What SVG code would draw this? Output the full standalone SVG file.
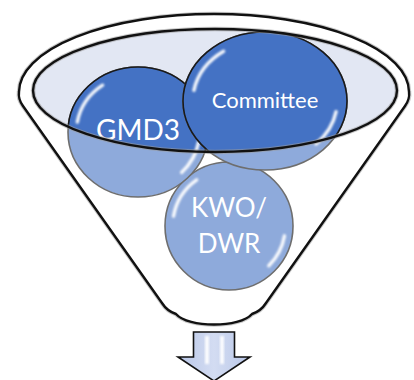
<svg xmlns="http://www.w3.org/2000/svg" width="414" height="380" viewBox="0 0 414 380">
  <style>
    .edge-halo { fill: none; stroke: #9a9a9a; stroke-width: 4.5; opacity: 0.55; }
    .edge { fill: none; stroke: #111; stroke-width: 2.4; stroke-linejoin: round; }
    .ball-light { fill: #8eaadb; stroke: #6e6e6e; stroke-width: 1.6; }
    .ball-dark { fill: #4472c4; stroke: #1a1a1a; stroke-width: 1.6; }
    .gloss { fill: none; stroke: #ffffff; stroke-width: 3.4; stroke-linecap: round; opacity: 0.95; filter: url(#soft); }
    .label { fill: #ffffff; font-family: Lato, "Open Sans", "Liberation Sans", sans-serif; text-anchor: middle; }
  </style>
  <defs>
    <filter id="soft" x="-20%" y="-20%" width="140%" height="140%">
      <feGaussianBlur stdDeviation="0.9"/>
    </filter>
    <clipPath id="rim-clip">
      <ellipse cx="215" cy="90.5" rx="182" ry="61.5"/>
    </clipPath>
    <linearGradient id="arrow-fill" x1="0" y1="0" x2="1" y2="0">
      <stop offset="0" stop-color="#b9c7e8"/>
      <stop offset="0.5" stop-color="#d3dcf2"/>
      <stop offset="1" stop-color="#b9c7e8"/>
    </linearGradient>
  </defs>

  <!-- funnel body and rim -->
  <g id="funnel">
    <path class="edge-halo" d="M19 92 A195 78 0 0 1 409 92 Q410 99 405 106 L266 303 Q261 311 252 314 C240 328 188 328 176 314 Q167 311 162 303 L23 106 Q18 99 19 92 Z"/>
    <path class="edge" style="fill:#ffffff" d="M19 92 A195 78 0 0 1 409 92 Q410 99 405 106 L266 303 Q261 311 252 314 C240 328 188 328 176 314 Q167 311 162 303 L23 106 Q18 99 19 92 Z"/>
    <ellipse cx="215" cy="90.5" rx="182" ry="61.5" fill="#e2e7f3"/>
  </g>

  <!-- balls, lighter where they sit below the rim -->
  <g id="kwo-dwr">
    <circle class="ball-light" cx="229" cy="226" r="64"/>
    <path class="gloss" d="M173.5 216.2 A56.3 56.3 0 0 1 196.7 179.9"/>
    <path class="gloss" d="M284.5 235.8 A56.3 56.3 0 0 1 268.8 265.8"/>
    <text class="label" x="229" y="217" font-size="26">KWO/</text>
    <text class="label" x="229" y="253" font-size="26">DWR</text>
  </g>

  <g id="gmd3">
    <ellipse class="ball-light" cx="138" cy="132" rx="70" ry="65"/>
    <ellipse class="ball-dark" cx="138" cy="132" rx="70" ry="65" clip-path="url(#rim-clip)"/>
    <path class="gloss" d="M77.3 122.1 A61.6 57.2 0 0 1 102.6 85.2"/>
    <path class="gloss" d="M198.7 141.9 A61.6 57.2 0 0 1 181.6 172.4"/>
    <text class="label" x="138" y="140" font-size="28">GMD3</text>
  </g>

  <g id="committee">
    <ellipse class="ball-light" cx="265" cy="101" rx="82" ry="69"/>
    <ellipse class="ball-dark" cx="265" cy="101" rx="82" ry="69" clip-path="url(#rim-clip)"/>
    <path class="gloss" d="M193.9 90.4 A72.2 60.7 0 0 1 223.6 51.3"/>
    <path class="gloss" d="M336.1 111.6 A72.2 60.7 0 0 1 316 143.9"/>
    <text class="label" x="265" y="108" font-size="22">Committee</text>
  </g>

  <!-- rim outline drawn over the balls -->
  <g id="rim">
    <ellipse class="edge-halo" cx="215" cy="90.5" rx="182" ry="61.5"/>
    <ellipse class="edge" cx="215" cy="90.5" rx="182" ry="61.5"/>
  </g>

  <!-- output arrow -->
  <g id="arrow">
    <path d="M193.5 332 H234.5 V357 H250 L214 381 L178 357 H193.5 Z" fill="url(#arrow-fill)" stroke="#111" stroke-width="1.6" stroke-linejoin="miter"/>
    <rect x="205" y="336" width="4" height="28" fill="#ffffff" opacity="0.9" filter="url(#soft)"/>
    <rect x="220" y="336" width="4" height="28" fill="#ffffff" opacity="0.9" filter="url(#soft)"/>
  </g>
</svg>
